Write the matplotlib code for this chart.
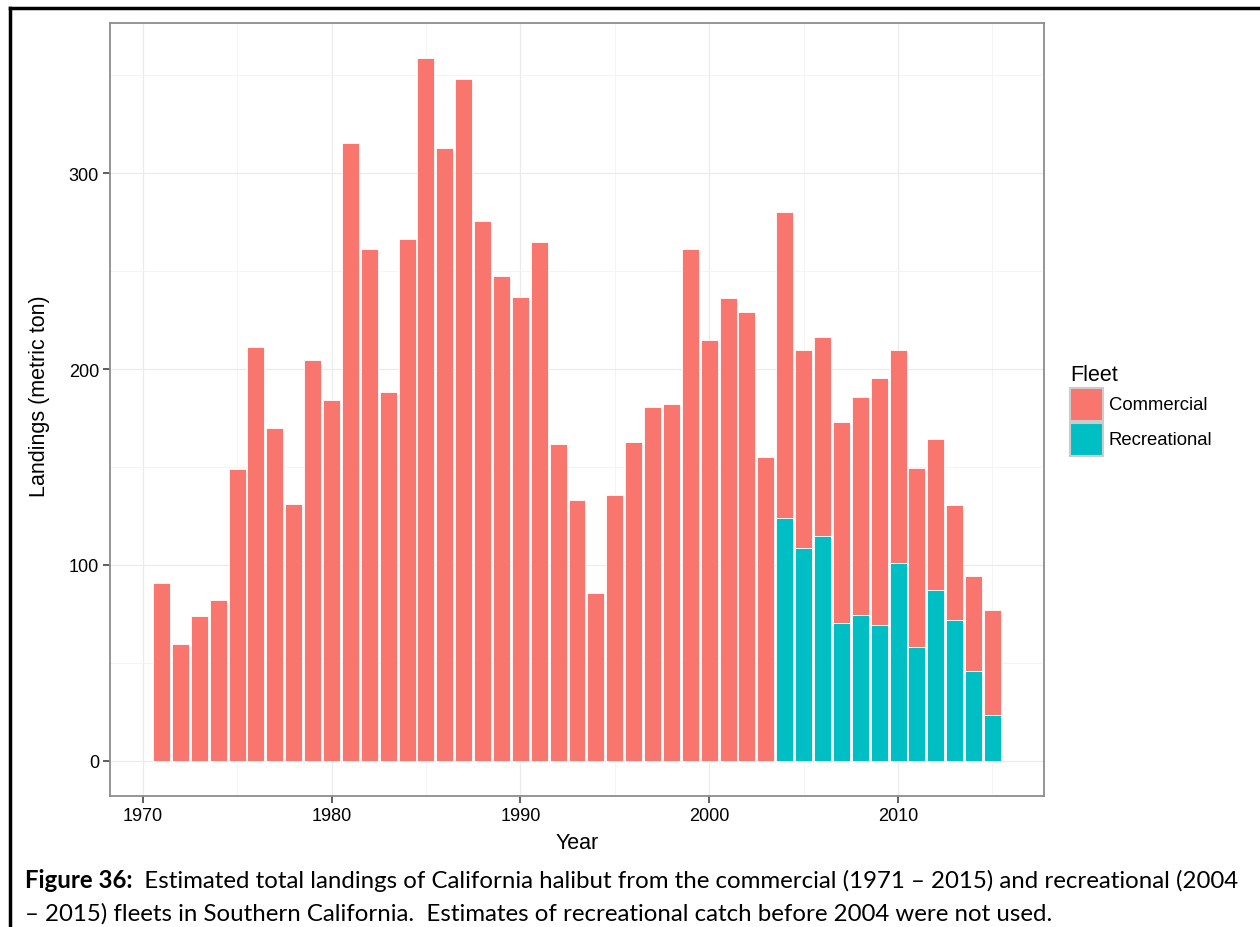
#!/usr/bin/env python3
import numpy as np
import matplotlib
matplotlib.use("Agg")
import matplotlib.pyplot as plt
from matplotlib.patches import Rectangle
from matplotlib.lines import Line2D

# landings (metric ton)
years = list(range(1971, 2016))
total = [90.7, 59.5, 73.8, 82.1, 149.2, 211.1, 169.7, 131.1, 204.6, 184.0,
         315.5, 261.1, 188.1, 266.5, 358.7, 312.6, 347.8, 275.7, 247.4, 236.6,
         264.8, 161.9, 133.0, 85.9, 135.9, 162.6, 180.5, 182.1, 261.4, 214.8,
         236.2, 228.9, 154.9, 280.3, 209.9, 216.2, 173.2, 185.9, 195.3, 209.7,
         149.3, 164.1, 130.6, 94.6, 76.9]
rec_years = list(range(2004, 2016))
recreational_vals = [124.2, 108.5, 114.8, 70.3, 74.5, 69.6, 101.2, 57.9,
                     87.2, 71.9, 45.9, 23.2]

fleet_labels = ["Commercial", "Recreational"]
fleet_colors = ["#F8766D", "#00BFC4"]

W, H = 1260, 928

x = np.array(years)
rec = np.zeros(len(years))
for yr, v in zip(rec_years, recreational_vals):
    rec[years.index(yr)] = v
comm = np.array(total) - rec

plt.rcParams["font.family"] = ["Liberation Sans", "DejaVu Sans"]

fig = plt.figure(figsize=(W / 100, H / 100), dpi=100)
ax = fig.add_axes([110 / W, 1 - 797 / H, (1044 - 110) / W, (797 - 24) / H])

ax.bar(x, rec, width=0.9, color=fleet_colors[1], edgecolor="white", linewidth=0.6, zorder=3)
ax.bar(x, comm, width=0.9, bottom=rec, color=fleet_colors[0], edgecolor="white",
       linewidth=0.6, zorder=3)

ax.set_xlim(1968.27, 2017.73)
ax.set_ylim(-17.9, 376.6)
ax.set_xticks([1970, 1980, 1990, 2000, 2010])
ax.set_yticks([0, 100, 200, 300])
ax.set_xticks([1975, 1985, 1995, 2005, 2015], minor=True)
ax.set_yticks([50, 150, 250, 350], minor=True)
ax.grid(which="major", color="#EBEBEB", linewidth=0.9, zorder=0)
ax.grid(which="minor", color="#F3F3F3", linewidth=0.6, zorder=0)
ax.tick_params(which="major", length=5, width=1.1, color="#333333",
               labelsize=13, labelcolor="black", pad=3)
ax.tick_params(which="minor", length=0)
for s in ax.spines.values():
    s.set_color("#8C8C8C")
    s.set_linewidth(1.3)

ax.set_xlabel("Year", fontsize=15.5, labelpad=6)
ax.set_ylabel("Landings (metric ton)", fontsize=15.5)
ax.yaxis.set_label_coords(-0.064, 0.519)

# legend drawn in pixel positions of the page
def px(xp, yp):
    return xp / W, 1 - yp / H

fig.text(*px(1070, 381), "Fleet", fontsize=15.5, va="baseline", ha="left")
for i, (lab, col) in enumerate(zip(fleet_labels, fleet_colors)):
    top = 389 + i * 35
    x0, y0 = px(1070, top + 33)
    fig.add_artist(Rectangle((x0, y0), 33 / W, 33 / H, transform=fig.transFigure,
                             facecolor=col, edgecolor="#CCCCCC", linewidth=1.5))
    fig.text(*px(1109, top + 17), lab, fontsize=13.3, va="center", ha="left")

# page frame lines
fig.add_artist(Line2D([10 / W, 1], [1 - 9 / H, 1 - 9 / H], color="black", linewidth=2.5))
fig.add_artist(Line2D([10 / W, 10 / W], [0, 1 - 9 / H], color="black", linewidth=2.5))

# caption
cap_font = ["Lato", "DejaVu Sans"]
cap_size = 17.3
t1 = fig.text(*px(25, 888), "Figure 36:", fontsize=cap_size, fontweight="bold",
              family=cap_font, va="baseline")
t2 = fig.text(0, 0, "  Estimated total landings of California halibut from the commercial "
              "(1971 \u2013 2015) and recreational (2004", fontsize=cap_size,
              family=cap_font, va="baseline")
fig.text(*px(25, 921),
         "\u2013 2015) fleets in Southern California.  Estimates of recreational "
         "catch before 2004 were not used.", fontsize=cap_size, family=cap_font,
         va="baseline")

# place the plain part right after the bold part
fig.canvas.draw()
bb = t1.get_window_extent()
t2.set_position((bb.x1 / fig.bbox.width, 1 - 888 / H))

fig.savefig("out.png", dpi=100)
